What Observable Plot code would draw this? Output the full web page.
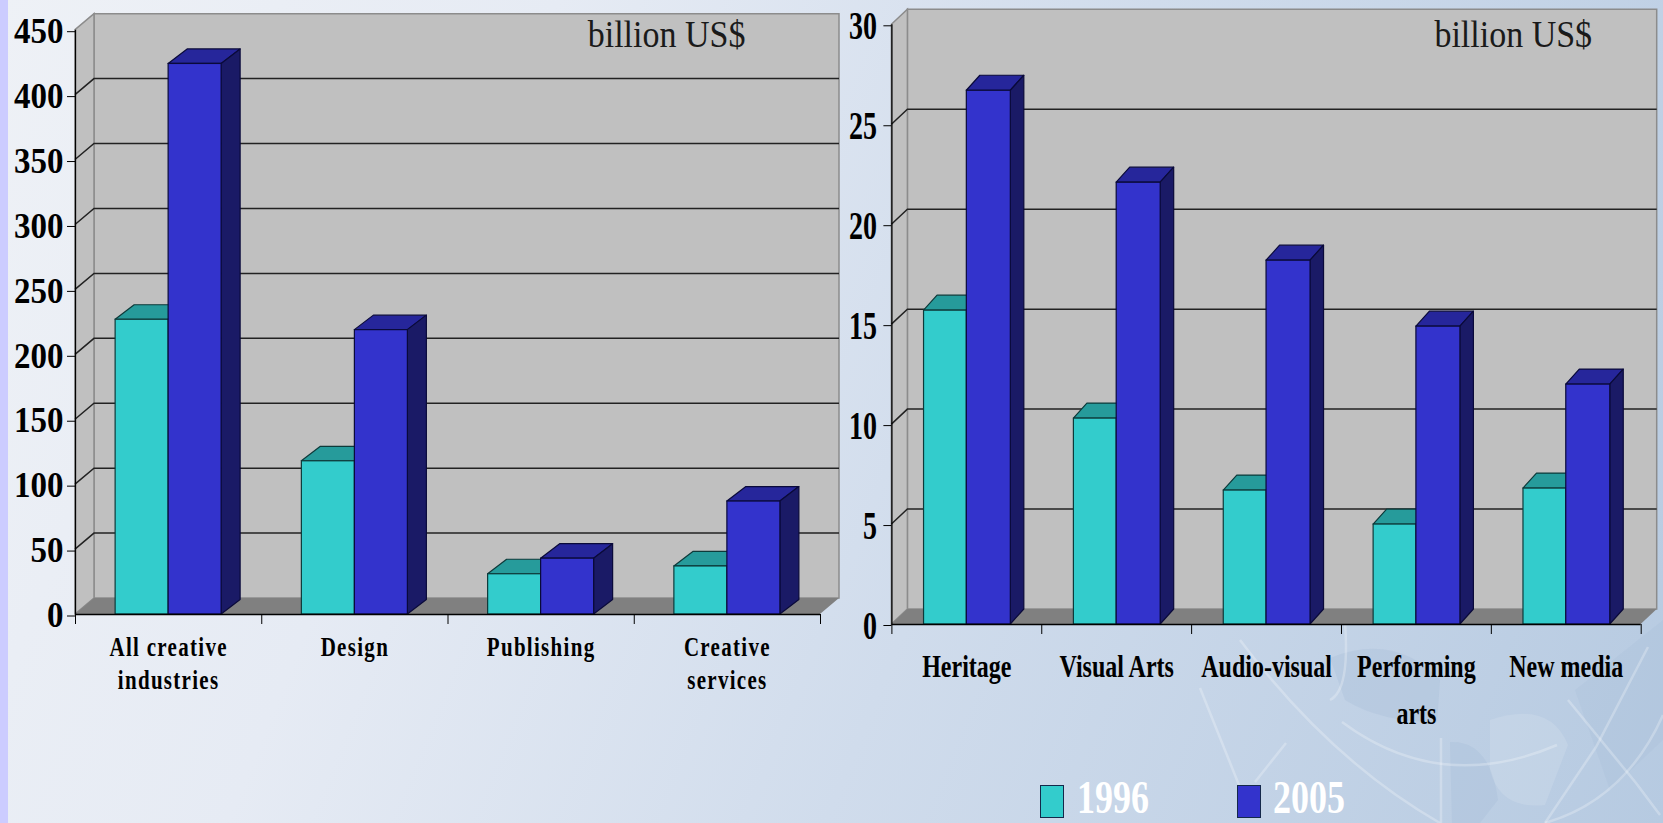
<!DOCTYPE html>
<html>
<head>
<meta charset="utf-8">
<script src="https://cdn.jsdelivr.net/npm/d3@7"></script>
<script src="https://cdn.jsdelivr.net/npm/@observablehq/plot@0.6"></script>
<style>
  html, body { margin: 0; width: 1663px; height: 823px; overflow: hidden; }
  body {
    position: relative;
    background:
      linear-gradient(to right, #ccccff 8px, transparent 8px),
      linear-gradient(112deg, #eef1f6 0%, #e6ebf4 28%, #d0dcec 58%, #b6cae1 100%);
  }
  #globe, #left, #right { position: absolute; top: 0; }
  #globe { left: 0; }
  #left { left: 0; }
  #right { left: 850px; }
  .swatch { position: absolute; top: 785px; width: 24px; height: 33px; box-sizing: border-box; border: 1.5px solid #14284a; }
  .year {
    position: absolute; top: 784px; color: #fff;
    font: bold 36px/26px "Liberation Serif", serif;
    transform: scaleY(1.3); transform-origin: left center;
  }
</style>
</head>
<body>
<svg id="globe" width="1663" height="823" fill="none">
  <g stroke="none">
    <path d="M1330 658 Q1395 632 1440 680 L1437 722 Q1380 722 1345 700 Z" fill="#9fb6d3" opacity=".25"/>
    <path d="M1450 742 Q1490 740 1498 800 L1480 823 L1452 823 Z" fill="#9fb6d3" opacity=".25"/>
    <path d="M1490 720 Q1550 700 1568 745 L1545 805 Q1500 810 1490 770 Z" fill="#ffffff" opacity=".12"/>
    <path d="M1575 690 L1663 620 V740 L1610 790 Z" fill="#9fb6d3" opacity=".18"/>
  </g>
  <g stroke="#ffffff" stroke-opacity=".26" stroke-width="2.5">
    <path d="M1342 722 Q1440 795 1557 745"/>
    <path d="M1441 738 V823"/>
    <path d="M1648 647 L1596 747 L1545 823"/>
    <path d="M1568 700 L1636 783 L1660 815"/>
    <path d="M1200 688 L1245 800"/>
    <path d="M1286 743 L1255 782"/>
    <path d="M1663 715 Q1625 800 1545 823"/>
    <path d="M1345 623 Q1350 690 1330 700"/>
    <path d="M1240 640 Q1330 760 1440 823"/>
  </g>
</svg>
<div id="left"></div>
<div id="right"></div>
<div class="swatch" style="left:1040px;background:#33cccc"></div>
<div class="year" style="left:1077px">1996</div>
<div class="swatch" style="left:1237px;background:#3333cc"></div>
<div class="year" style="left:1273px">2005</div>

<script>
// Creative goods exports, billion US$
const categoriesA = ["All creative\nindustries", "Design", "Publishing", "Creative\nservices"];
const exports1996A = [227, 118, 31, 37];
const exports2005A = [424, 219, 43, 87];
const ticksA = [0, 50, 100, 150, 200, 250, 300, 350, 400, 450];

const categoriesB = ["Heritage", "Visual Arts", "Audio-visual", "Performing\narts", "New media"];
const exports1996B = [15.7, 10.3, 6.7, 5.0, 6.8];
const exports2005B = [26.7, 22.1, 18.2, 14.9, 12.0];
const ticksB = [0, 5, 10, 15, 20, 25, 30];

const SERIES_COLORS = {
  1996: {front: "#33cccc", top: "#269b9b", side: "#1a6c6c", edge: "#0d3a3a"},
  2005: {front: "#3333cc", top: "#26269b", side: "#1a1a66", edge: "#0a0a3a"}
};
const FONT = '"Liberation Serif", serif';

// One chart: back wall, side wall and floor in the projected box, then the two
// series as extruded columns whose front faces are ordinary rect marks.
function columnChart({categories, a, b, ticks, width, xRange, yRange, shareA, shareB, depth, barDepth, label, unit}) {
  const n = categories.length;
  const top = ticks[ticks.length - 1];
  const rowsFor = (values) => values.map((v, i) => ({i, v}));

  const box = (index, {x, y}) => {
    const g = d3.create("svg:g");
    const [dx, dy] = depth;
    const x0 = x(0), x1 = x(n), y0 = y(0), yT = y(top);
    g.append("path").attr("fill", "#c0c0c0").attr("stroke", "#8c8c8c").attr("stroke-width", 1.5)
      .attr("d", `M${x0 + dx},${y0 - dy}V${yT - dy}H${x1 + dx}V${y0 - dy}Z`);
    g.append("path").attr("fill", "#c0c0c0").attr("stroke", "#8c8c8c").attr("stroke-width", 1.5)
      .attr("d", `M${x0},${y0}V${yT}L${x0 + dx},${yT - dy}V${y0 - dy}Z`);
    g.append("path").attr("fill", "#808080")
      .attr("d", `M${x0},${y0}L${x0 + dx},${y0 - dy}H${x1 + dx}L${x1},${y0}Z`);
    for (const t of ticks.slice(1, -1)) {
      g.append("path").attr("fill", "none").attr("stroke", "#222").attr("stroke-width", 1.5)
        .attr("d", `M${x0},${y(t)}L${x0 + dx},${y(t) - dy}H${x1 + dx}`);
    }
    return g.node();
  };

  const faces = (rows, colors, lo, hi) => (index, {x, y}) => {
    const g = d3.create("svg:g").attr("stroke", colors.edge).attr("stroke-width", 1.2).attr("stroke-linejoin", "round");
    const [dx, dy] = barDepth;
    for (const {i, v} of rows) {
      const l = x(i + lo), r = x(i + hi), t = y(v), f = y(0);
      g.append("path").attr("fill", colors.top).attr("d", `M${l},${t}L${l + dx},${t - dy}H${r + dx}L${r},${t}Z`);
      g.append("path").attr("fill", colors.side).attr("d", `M${r},${t}L${r + dx},${t - dy}V${f - dy}L${r},${f}Z`);
    }
    return g.node();
  };

  const front = (rows, colors, lo, hi) => Plot.rectY(rows, {
    x1: (d) => d.i + lo, x2: (d) => d.i + hi, y1: 0, y2: "v",
    fill: colors.front, stroke: colors.edge, strokeWidth: 1.2
  });

  const rowsA = rowsFor(a), rowsB = rowsFor(b);
  const mid = 0.5;
  const svg = Plot.plot({
    width, height: 823,
    margin: 0,
    style: {background: "transparent", fontFamily: FONT, color: "#000", overflow: "visible"},
    x: {domain: [0, n], range: xRange},
    y: {domain: [ticks[0], top], range: yRange},
    marks: [
      box,
      faces(rowsA, SERIES_COLORS[1996], mid - shareA, mid),
      front(rowsA, SERIES_COLORS[1996], mid - shareA, mid),
      faces(rowsB, SERIES_COLORS[2005], mid, mid + shareB),
      front(rowsB, SERIES_COLORS[2005], mid, mid + shareB),
      Plot.ruleX([0], {y1: ticks[0], y2: top, stroke: "#000", strokeWidth: 1.3}),
      Plot.ruleY([0], {x1: 0, x2: n, stroke: "#000", strokeWidth: 1.3}),
      Plot.axisY({
        ticks, anchor: "left", tickSize: 8, tickPadding: label.tickPadding, label: null,
        x: 0, fontSize: label.tick, fontWeight: "bold", fontFamily: FONT, dy: label.tickDy
      }),
      Plot.axisX({
        ticks: d3.range(n + 1), anchor: "bottom", y: 0, tickSize: 10, tickFormat: () => "", label: null
      }),
      Plot.text(categories, {
        x: (d, i) => i + mid, y: () => 0, dy: label.dy, lineAnchor: "top", textAnchor: "middle",
        fontSize: label.size, fontWeight: "bold", fontFamily: FONT, lineHeight: label.lineHeight
      }),
      Plot.text(["billion US$"], {
        x: () => unit.x, y: () => top, dy: unit.dy, textAnchor: "start", lineAnchor: "middle",
        fontSize: 34, fontFamily: FONT, fill: "#1a1a1a", ariaLabel: () => "unit"
      })
    ]
  });

  // The lettering is drawn taller than the serif's natural proportions.
  const stretch = (selector, sy) => svg.querySelectorAll(selector).forEach((t) => {
    t.setAttribute("transform", `${t.getAttribute("transform") || ""} scale(1,${sy})`);
  });
  const categoryLabels = 'g[aria-label="text"] text:not([aria-label="unit"])';
  stretch('g[aria-label="y-axis tick label"] text', label.tickSy);
  stretch(categoryLabels, label.sy);
  stretch('text[aria-label="unit"]', 1.1);
  svg.querySelectorAll(categoryLabels).forEach((t) => { t.style.letterSpacing = label.spacing; });
  return svg;
}

document.getElementById("left").append(columnChart({
  categories: categoriesA, a: exports1996A, b: exports2005A, ticks: ticksA, width: 850,
  xRange: [75, 820], yRange: [614, 29.7], shareA: 53 / 186.25, shareB: 53 / 186.25,
  depth: [19, 16], barDepth: [19, 14.5], unit: {x: 2.75, dy: 4.5},
  label: {tick: 33, tickPadding: 4, tickSy: 1.06, tickDy: 1.5, dy: 17, size: 21, sy: 1.26, lineHeight: 1.28, spacing: "1.3px"}
}));

document.getElementById("right").append(columnChart({
  categories: categoriesB, a: exports1996B, b: exports2005B, ticks: ticksB, width: 813,
  xRange: [41.4, 790.7], yRange: [624, 24.3], shareA: 42.8 / 149.9, shareB: 44 / 149.9,
  depth: [16, 15], barDepth: [13.5, 15], unit: {x: 3.62, dy: 10.5},
  label: {tick: 28, tickPadding: 7, tickSy: 1.45, tickDy: 1, dy: 19, size: 24, sy: 1.3, lineHeight: 1.5, spacing: "0"}
}));
</script>
</body>
</html>
